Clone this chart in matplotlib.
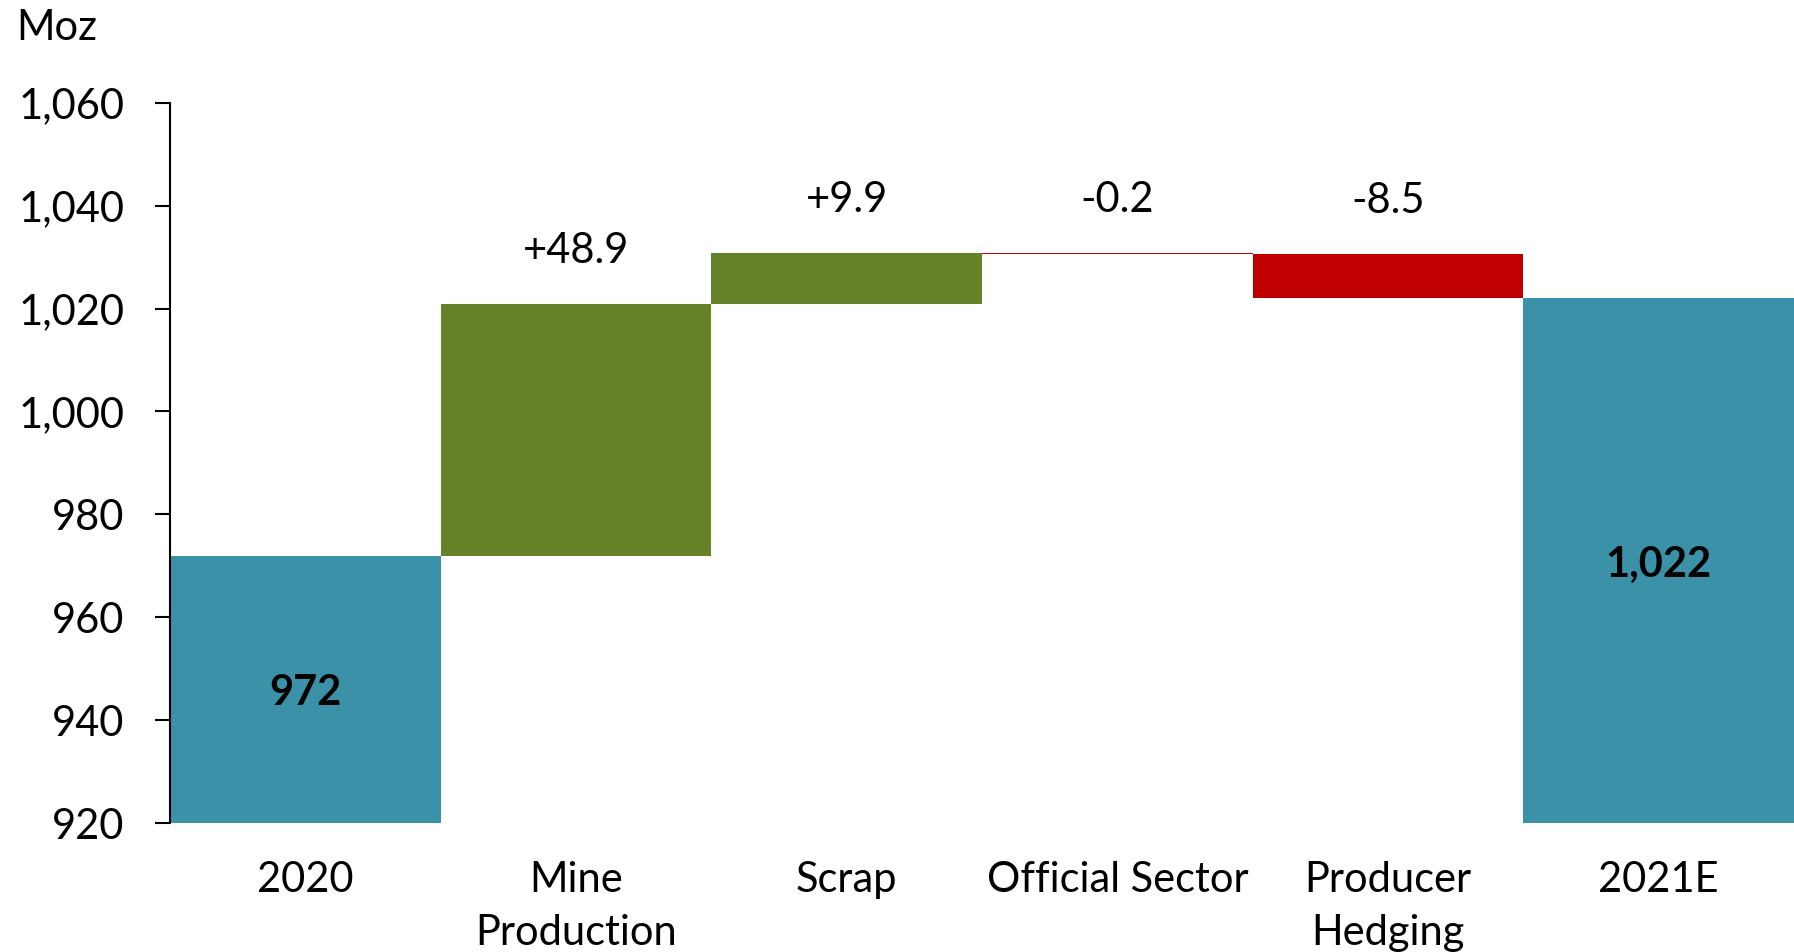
import matplotlib.pyplot as plt
from matplotlib.ticker import FuncFormatter
import numpy as np

plt.rcParams['font.family'] = ['Lato', 'DejaVu Sans']

# data
categories = ['2020', 'Mine\nProduction', 'Scrap', 'Official Sector', 'Producer\nHedging', '2021E']
start_value = 972.0
changes = [48.9, 9.9, -0.2, -8.5]
end_value = 1022.0
change_labels = ['+48.9', '+9.9', '-0.2', '-8.5']
total_labels = ['972', '1,022']

teal = '#3A91A8'
green = '#658228'
red = '#C00000'
ymin, ymax = 920, 1060

fig = plt.figure(figsize=(17.94, 9.52), dpi=100)
ax = fig.add_axes([0.0948, 0.1355, 0.9052, 0.7565])

x = np.arange(len(categories))

# totals
ax.bar(x[0], start_value - ymin, bottom=ymin, width=1.0, color=teal)
ax.bar(x[-1], end_value - ymin, bottom=ymin, width=1.0, color=teal)
for xi, val, lab in [(x[0], start_value, total_labels[0]), (x[-1], end_value, total_labels[1])]:
    ax.annotate(lab, (xi, (val + ymin) / 2), xytext=(0, -3), textcoords='offset points',
                ha='center', va='center', fontsize=30, fontweight='bold')

# floating change bars
level = start_value
for i, (d, lab) in enumerate(zip(changes, change_labels)):
    col = green if d >= 0 else red
    bottom = level if d >= 0 else level + d
    ax.bar(x[i + 1], abs(d), bottom=bottom, width=1.0, color=col, linewidth=0)
    top = max(level, level + d)
    ax.annotate(lab, (x[i + 1], top), xytext=(0, 38), textcoords='offset points',
                ha='center', va='center', fontsize=30)
    level += d

ax.set_xlim(-0.5, len(categories) - 0.5)
ax.set_ylim(ymin, ymax)
ax.set_yticks(np.arange(ymin, ymax + 1, 20))
ax.yaxis.set_major_formatter(FuncFormatter(lambda v, p: f'{v:,.0f}'))
ax.set_xticks(x)
ax.set_xticklabels(categories, fontsize=30, linespacing=1.5)

for s in ['top', 'right', 'bottom']:
    ax.spines[s].set_visible(False)
ax.spines['left'].set_linewidth(1.5)
ax.tick_params(axis='y', labelsize=30, length=11, width=1.5, pad=22)
ax.tick_params(axis='x', length=0, pad=27)

fig.text(0.009, 0.971, 'Moz', fontsize=30, ha='left', va='center')

fig.savefig('out.png', dpi=100)
